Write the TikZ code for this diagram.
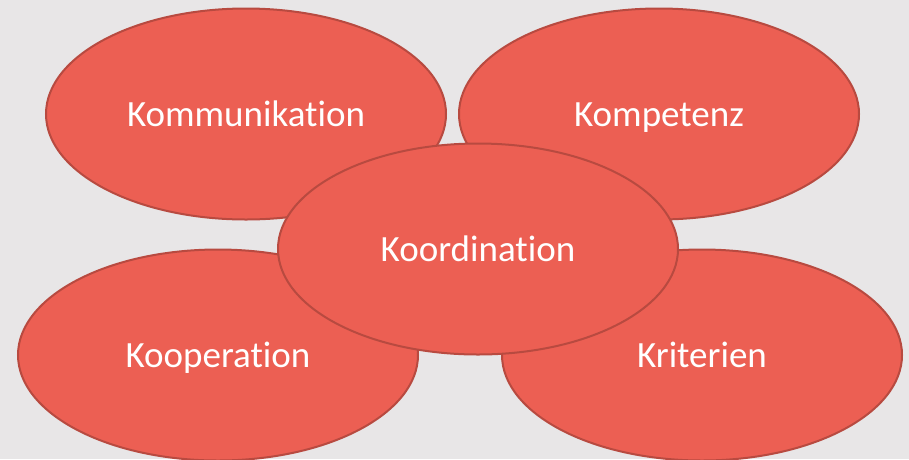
\documentclass[tikz,border=0pt]{standalone}
\usepackage{fontspec}
\setmainfont[Ligatures=NoCommon]{Carlito}
\usetikzlibrary{shapes.geometric}
\definecolor{bg}{HTML}{E8E6E7}
\definecolor{kfill}{HTML}{EC5F53}
\definecolor{kline}{HTML}{B84A40}
\tikzset{
  kblob/.style={ellipse,draw=kline,fill=kfill,line width=2pt,
    minimum width=400pt,minimum height=211pt,inner sep=0pt,
    text=white,font=\fontsize{37}{42}\selectfont,
    text height=30pt,text depth=4.6pt}
}
\begin{document}
\begin{tikzpicture}[x=1pt,y=-1pt]
      \fill[bg] (0,0) rectangle (909,459);
      \useasboundingbox (0,0) rectangle (909,459);
      \node [kblob] (komm) at (246,114) {Kommunikation};
      \node [kblob] (komp) at (659,114) {Kompetenz};
      \node [kblob] (koop) at (218,355) {Kooperation};
      \node [kblob] (krit) at (702,355) {Kriterien};
      \node [kblob] (koord) at (478,249) {Koordination};
    \end{tikzpicture}
\end{document}
